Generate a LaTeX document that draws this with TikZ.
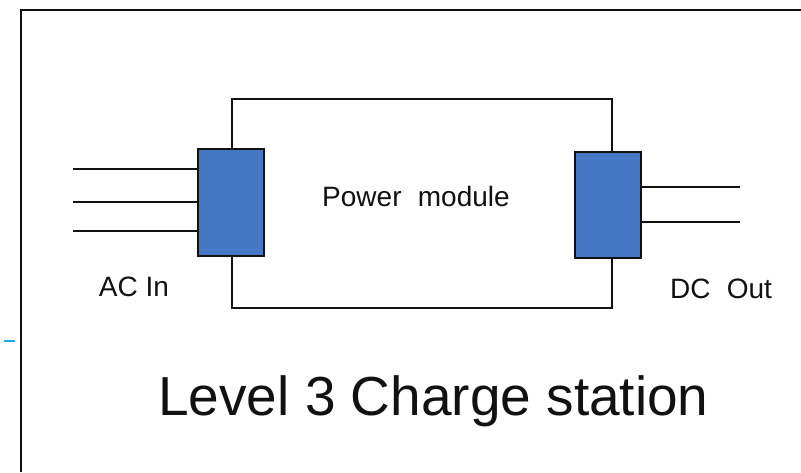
\documentclass[tikz,border=0pt]{standalone}
\usepackage{fontspec}
\setmainfont{Liberation Sans}
\newfontfamily\labelfont[WordSpace=2.1]{Liberation Sans}
\usetikzlibrary{calc}
\definecolor{ink}{HTML}{111111}
\definecolor{port}{HTML}{4677C4}
\definecolor{stray}{HTML}{1EA7E4}

\begin{document}
\begin{tikzpicture}[x=1pt,y=-1pt,text=ink,
                    font=\labelfont\fontsize{28}{32}\selectfont,
                    portbox/.style={draw=ink,fill=port,line width=1.6pt,
                                    minimum width=66pt,minimum height=107pt,
                                    inner sep=0pt},
                    wire/.style={draw=ink,line width=1.6pt}]
  \useasboundingbox (0,0) rectangle (801,472);
  \fill[white] (0,0) rectangle (801,472);
  % outer frame, open to the right and bottom
  \draw[ink,line width=2pt] (21,472)--(21,10)--(801,10);
  \draw[stray,line width=2.4pt] (4,341)--(15,341);

  \node[draw=ink,line width=1.6pt,minimum width=380pt,minimum height=209pt,
        inner sep=0pt] (module) at (422,203.5) {};
  \node (modlabel) at (416,196) {Power module};

  \node[portbox] (acport) at (231,202.5) {};
  \node[portbox,minimum height=106pt] (dcport) at (608,205) {};

  \coordinate (ac1) at (73,169);
  \coordinate (ac2) at (73,202);
  \coordinate (ac3) at (73,231);
  \coordinate (dc1) at (740,187);
  \coordinate (dc2) at (740,222);
  \foreach \w in {ac1,ac2,ac3}
    \draw[wire] (\w)--(\w -| acport.west);
  \foreach \w in {dc1,dc2}
    \draw[wire] (\w -| dcport.east)--(\w);

  \node[anchor=base,font=\rmfamily\fontsize{28}{32}\selectfont] (acin)
    at (134,296) {AC In};
  \node[anchor=base] (dcout) at (721,298) {DC Out};
  \node[anchor=base,font=\rmfamily\fontsize{55}{60}\selectfont] (title)
    at (433.5,415) {Level 3 Charge station};
\end{tikzpicture}
\end{document}
